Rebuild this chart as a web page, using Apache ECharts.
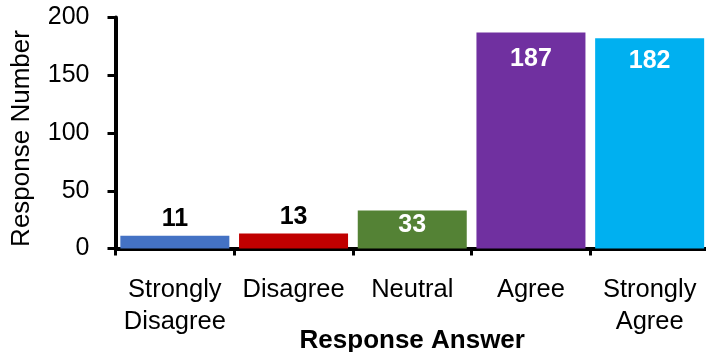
<!DOCTYPE html>
<html>
<head>
<meta charset="utf-8">
<script src="https://cdn.jsdelivr.net/npm/echarts@6/dist/echarts.min.js"></script>
<style>
html,body{margin:0;padding:0;background:#fff;}
#chart{width:706px;height:352px;}
</style>
</head>
<body>
<div id="chart"></div>
<script>
var categories = ['Strongly\nDisagree', 'Disagree', 'Neutral', 'Agree', 'Strongly\nAgree'];
var values = [11, 13, 33, 187, 182];
var barColors = ['#4472C4', '#C00000', '#548235', '#7030A0', '#00B0F0'];
var yTicks = [0, 50, 100, 150, 200];
var insideLabel = [false, false, true, true, true];
var labelDistance = [4, 4, 2, 14, 10];

var FONT = "'Liberation Sans', Arial, sans-serif";

var data = values.map(function (v, i) {
  return {
    value: v,
    itemStyle: { color: barColors[i] },
    label: {
      show: true,
      position: insideLabel[i] ? 'insideTop' : 'top',
      distance: labelDistance[i],
      color: insideLabel[i] ? '#ffffff' : '#000000',
      fontWeight: 'bold',
      fontSize: 25,
      fontFamily: FONT
    }
  };
});

var chart = echarts.init(document.getElementById('chart'), null, { renderer: 'canvas' });
chart.setOption({
  animation: false,
  grid: { left: 115.5, top: 17.5, width: 593.5, bottom: 103.5, containLabel: false, outerBoundsMode: 'none' },
  xAxis: {
    type: 'category',
    data: categories,
    name: 'Response Answer',
    nameLocation: 'middle',
    nameGap: 79,
    nameMoveOverlap: false,
    nameTextStyle: { fontFamily: FONT, fontSize: 26, fontWeight: 'bold', color: '#000' },
    axisLine: { lineStyle: { color: '#000', width: 4 } },
    axisTick: { show: true, length: 7, alignWithLabel: false, lineStyle: { color: '#000', width: 3 } },
    axisLabel: { fontFamily: FONT, fontSize: 25.5, color: '#000', margin: 25, lineHeight: 32, interval: 0 }
  },
  yAxis: {
    type: 'value',
    min: yTicks[0],
    max: yTicks[yTicks.length - 1],
    interval: yTicks[1] - yTicks[0],
    name: 'Response Number',
    nameLocation: 'middle',
    nameGap: 81,
    nameMoveOverlap: false,
    nameTextStyle: { fontFamily: FONT, fontSize: 26, color: '#000', padding: [0, 11, 0, 0] },
    axisLine: { show: true, lineStyle: { color: '#000', width: 4 } },
    axisTick: { show: true, length: 8, lineStyle: { color: '#000', width: 3 } },
    axisLabel: { fontFamily: FONT, fontSize: 25, color: '#000', margin: 26 },
    splitLine: { show: false }
  },
  series: [{
    type: 'bar',
    data: data,
    barWidth: 109
  }]
});
</script>
</body>
</html>
